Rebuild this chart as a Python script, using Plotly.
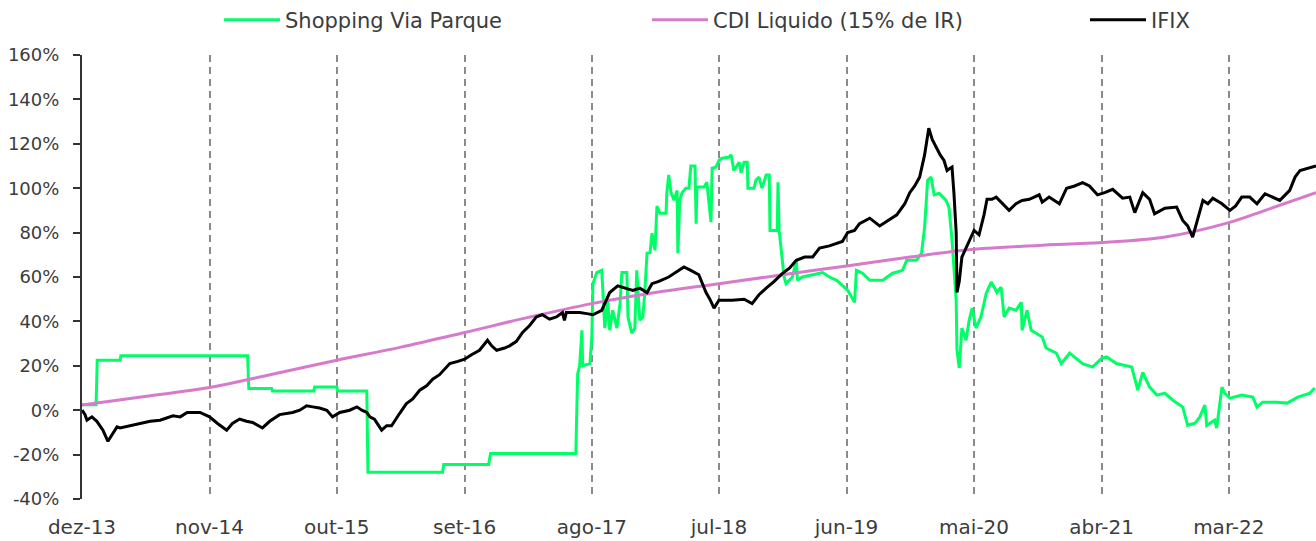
import plotly.graph_objects as go

# ---------------- data ----------------
shop_dates = [
    "2013-12-01", "2014-01-07", "2014-01-10", "2014-03-11", "2014-03-13", "2015-02-09", "2015-02-12",
    "2015-04-13", "2015-04-15", "2015-08-02", "2015-08-04", "2015-10-01", "2015-10-04", "2015-12-19",
    "2015-12-22", "2016-07-05", "2016-07-08", "2016-11-03", "2016-11-08", "2017-06-20",
    "2017-06-23", "2017-06-25", "2017-06-30", "2017-07-06", "2017-07-08", "2017-07-27", "2017-08-01",
    "2017-08-04", "2017-08-14", "2017-08-27", "2017-08-30", "2017-09-04", "2017-09-12", "2017-09-17",
    "2017-09-25", "2017-10-06", "2017-10-14", "2017-10-19", "2017-11-01", "2017-11-04", "2017-11-14",
    "2017-11-22", "2017-11-27", "2017-12-05", "2017-12-13", "2017-12-18", "2017-12-24", "2018-01-01",
    "2018-01-06", "2018-01-14", "2018-01-19", "2018-01-27", "2018-02-12", "2018-02-14", "2018-02-19",
    "2018-02-25", "2018-03-05", "2018-03-13", "2018-03-15", "2018-03-20", "2018-03-26", "2018-04-05",
    "2018-04-13", "2018-04-18", "2018-04-29", "2018-05-02", "2018-05-04", "2018-05-23", "2018-05-30",
    "2018-06-10", "2018-06-13", "2018-06-23", "2018-07-01", "2018-07-09", "2018-07-27", "2018-08-02",
    "2018-08-09", "2018-08-23", "2018-08-28", "2018-09-05", "2018-09-13", "2018-09-15", "2018-10-01",
    "2018-10-06", "2018-10-14", "2018-10-22", "2018-11-02", "2018-11-10", "2018-11-12", "2018-12-01",
    "2018-12-03", "2018-12-06", "2018-12-19", "2018-12-24", "2019-01-10", "2019-01-20", "2019-01-23",
    "2019-02-05", "2019-03-04", "2019-03-30", "2019-04-17", "2019-05-06", "2019-06-04", "2019-06-22",
    "2019-06-27", "2019-07-13", "2019-08-01", "2019-09-04", "2019-09-30", "2019-10-26", "2019-11-06",
    "2019-12-02", "2019-12-15", "2019-12-23", "2019-12-31", "2020-01-09", "2020-01-17", "2020-01-30",
    "2020-02-17", "2020-02-25", "2020-03-04", "2020-03-09", "2020-03-15", "2020-03-17", "2020-03-23",
    "2020-03-30", "2020-04-10", "2020-04-18", "2020-04-26", "2020-05-06", "2020-05-19", "2020-06-02",
    "2020-06-15", "2020-06-23", "2020-06-30", "2020-07-11", "2020-07-19", "2020-08-01", "2020-08-19",
    "2020-09-02", "2020-09-04", "2020-09-17", "2020-09-28", "2020-10-27", "2020-11-06", "2020-12-03",
    "2020-12-16", "2021-01-07", "2021-02-10", "2021-03-08", "2021-04-01", "2021-04-14", "2021-05-10",
    "2021-06-19", "2021-07-05", "2021-07-18", "2021-08-05", "2021-08-24", "2021-09-14", "2021-10-05",
    "2021-10-31", "2021-11-13", "2021-12-02", "2021-12-15", "2021-12-28", "2022-01-02", "2022-01-23",
    "2022-01-28", "2022-02-11", "2022-02-18", "2022-03-04", "2022-04-04", "2022-05-03", "2022-05-14",
    "2022-05-29", "2022-07-05", "2022-08-01", "2022-08-29", "2022-09-30", "2022-10-13",
]
shop_values = [
    2.5, 2.5, 22.5, 22.5, 24.5, 24.5, 9.8,
    9.8, 8.6, 8.6, 10.4, 10.4, 8.6, 8.6,
    -28.0, -28.0, -24.5, -24.5, -19.5, -19.5,
    3.6, 16.6, 20.0, 36.0, 20.0, 21.0, 33.0,
    57.0, 62.0, 63.0, 54.0, 37.0, 49.5, 36.0,
    45.0, 37.0, 48.0, 62.0, 62.0, 42.0, 34.7,
    37.0, 63.0, 40.5, 42.0, 52.7, 70.7, 71.0,
    79.7, 72.0, 92.0, 88.7, 88.7, 98.0, 106.0,
    98.0, 94.6, 99.0, 70.7, 94.6, 98.0, 100.0,
    100.0, 110.0, 110.0, 84.0, 100.5, 100.5, 102.7,
    84.7, 109.0, 109.5, 112.6, 113.5, 114.0, 115.0,
    108.0, 111.7, 107.0, 111.7, 111.7, 100.0, 100.0,
    103.6, 105.0, 100.0, 106.0, 106.0, 81.0, 81.0,
    102.7, 81.0, 60.0, 57.0, 60.0, 67.6, 58.5,
    60.0, 61.0, 62.0, 60.0, 58.5, 54.0, 48.6,
    63.0, 61.7, 58.5, 58.5, 61.7, 63.0, 67.6,
    67.6, 70.7, 82.4, 103.6, 105.0, 97.0, 97.7,
    94.6, 91.4, 76.6, 64.4, 49.5, 27.0, 19.0,
    37.0, 31.5, 40.5, 46.0, 37.0, 42.0, 52.7,
    57.7, 55.4, 53.0, 55.4, 42.0, 46.0, 45.0,
    48.6, 36.0, 45.0, 36.0, 33.0, 28.0, 25.7,
    21.0, 25.7, 21.0, 19.4, 23.4, 24.0, 21.0,
    19.4, 9.0, 17.0, 10.4, 6.8, 7.7, 4.5,
    1.4, -6.8, -5.9, -3.0, 2.3, -6.8, -4.5,
    -8.0, 10.4, 7.7, 5.4, 6.8, 5.9, 1.4,
    3.6, 3.6, 3.2, 5.9, 7.7, 10.0,
]

cdi_dates = [
    "2013-12-01", "2014-05-15", "2014-11-01", "2015-04-15", "2015-10-01", "2016-03-15",
    "2016-09-01", "2017-02-15", "2017-08-01", "2018-01-15", "2018-07-01", "2018-12-15",
    "2019-06-01", "2019-11-15", "2020-05-01", "2020-10-15", "2021-04-01", "2021-09-15",
    "2022-03-01", "2022-06-01", "2022-10-16",
]
cdi_values = [
    2.3, 6.2, 10.2, 16.2, 22.5, 28.3,
    35.0, 41.8, 48.0, 53.0, 57.0, 61.0,
    65.0, 69.0, 72.5, 74.2, 75.5, 78.0,
    84.5, 89.8, 98.0,
]

ifix_dates = [
    "2013-12-01", "2013-12-09", "2013-12-14", "2013-12-27", "2014-01-09", "2014-01-25", "2014-02-07",
    "2014-02-18", "2014-03-03", "2014-03-11", "2014-04-06", "2014-05-29", "2014-06-24", "2014-07-28",
    "2014-08-16", "2014-09-03", "2014-10-07", "2014-11-01", "2014-11-22", "2014-12-16", "2014-12-31",
    "2015-01-19", "2015-02-06", "2015-02-22", "2015-03-20", "2015-04-08", "2015-05-04", "2015-06-07",
    "2015-06-26", "2015-07-14", "2015-07-30", "2015-08-17", "2015-09-05", "2015-09-20", "2015-10-09",
    "2015-11-04", "2015-11-23", "2015-12-06", "2015-12-19", "2015-12-27", "2016-01-08", "2016-01-27",
    "2016-02-09", "2016-02-22", "2016-03-14", "2016-04-01", "2016-04-17", "2016-05-06", "2016-05-24",
    "2016-06-09", "2016-06-27", "2016-07-24", "2016-08-14", "2016-09-01", "2016-09-19", "2016-10-10",
    "2016-10-31", "2016-11-11", "2016-11-24", "2016-12-15", "2016-12-28", "2017-01-15", "2017-01-31",
    "2017-02-18", "2017-03-08", "2017-03-24", "2017-04-12", "2017-04-30", "2017-05-16", "2017-05-21",
    "2017-05-26", "2017-06-30", "2017-07-19", "2017-08-04", "2017-08-27", "2017-09-17", "2017-10-08",
    "2017-10-27", "2017-11-17", "2017-12-05", "2017-12-24", "2018-01-06", "2018-01-24", "2018-02-19",
    "2018-03-10", "2018-03-31", "2018-04-18", "2018-05-09", "2018-05-28", "2018-06-07", "2018-06-18",
    "2018-07-01", "2018-08-04", "2018-09-05", "2018-09-26", "2018-10-14", "2018-11-02", "2018-11-23",
    "2018-12-14", "2019-01-02", "2019-01-20", "2019-02-11", "2019-03-04", "2019-03-22", "2019-04-17",
    "2019-05-06", "2019-05-21", "2019-06-04", "2019-06-22", "2019-07-05", "2019-08-01", "2019-08-27",
    "2019-09-22", "2019-10-11", "2019-11-01", "2019-11-14", "2019-11-27", "2019-12-10", "2019-12-23",
    "2020-01-03", "2020-01-12", "2020-01-22", "2020-02-02", "2020-02-12", "2020-02-20", "2020-02-28",
    "2020-03-04", "2020-03-09", "2020-03-15", "2020-03-17", "2020-03-23", "2020-03-30", "2020-04-10",
    "2020-04-18", "2020-05-01", "2020-05-14", "2020-05-27", "2020-06-04", "2020-06-17", "2020-06-28",
    "2020-07-14", "2020-08-01", "2020-08-19", "2020-09-04", "2020-09-23", "2020-10-19", "2020-10-27",
    "2020-11-14", "2020-12-11", "2020-12-30", "2021-01-20", "2021-02-10", "2021-02-28", "2021-03-21",
    "2021-04-09", "2021-04-30", "2021-05-26", "2021-06-14", "2021-06-27", "2021-07-18", "2021-08-05",
    "2021-08-18", "2021-09-14", "2021-10-15", "2021-10-31", "2021-11-13", "2021-11-26", "2021-12-09",
    "2021-12-23", "2022-01-05", "2022-01-18", "2022-02-11", "2022-03-04", "2022-03-19", "2022-04-04",
    "2022-04-25", "2022-05-14", "2022-06-04", "2022-06-22", "2022-07-13", "2022-08-08", "2022-08-22",
    "2022-09-04", "2022-09-22", "2022-10-16",
]
ifix_values = [
    0.0, -2.0, -4.5, -3.0, -5.0, -9.0, -14.0,
    -11.0, -7.5, -8.0, -7.0, -5.0, -4.5, -2.5,
    -3.0, -1.0, -1.0, -3.0, -6.0, -9.0, -6.0,
    -4.0, -5.0, -5.5, -8.0, -5.0, -2.0, -1.0,
    0.0, 2.0, 1.5, 1.0, 0.0, -3.0, -1.0,
    0.0, 1.5, 0.0, -1.0, -3.0, -4.0, -9.0,
    -7.0, -7.0, -1.5, 3.0, 5.0, 9.0, 11.0,
    14.0, 16.0, 21.0, 22.0, 23.0, 25.0, 27.0,
    31.5, 29.0, 27.0, 28.0, 29.0, 31.0, 35.0,
    38.0, 42.0, 43.0, 41.0, 42.0, 44.0, 40.5,
    44.0, 44.0, 43.5, 43.0, 45.0, 53.0, 56.0,
    55.0, 54.0, 55.0, 53.0, 57.0, 58.0, 60.0,
    62.0, 64.5, 63.0, 61.0, 53.0, 50.0, 46.0,
    49.5, 49.5, 50.0, 48.0, 52.0, 55.0, 58.0,
    61.5, 64.0, 67.5, 69.0, 69.0, 73.0, 74.0,
    75.0, 76.0, 80.0, 81.0, 84.0, 86.5, 83.0,
    86.0, 88.0, 93.0, 98.0, 101.0, 105.0, 115.0,
    127.0, 122.0, 118.5, 115.0, 112.5, 108.0, 109.0,
    109.5, 98.0, 80.0, 53.0, 58.0, 69.0, 73.0,
    76.5, 81.0, 79.0, 88.0, 95.0, 95.0, 96.0,
    93.0, 90.0, 93.0, 94.5, 95.0, 97.0, 93.7,
    96.0, 93.0, 100.0, 101.0, 102.5, 101.0, 97.0,
    98.0, 99.5, 95.5, 96.0, 89.0, 98.0, 95.0,
    88.5, 91.0, 91.5, 85.5, 83.0, 78.0, 86.0,
    94.5, 93.0, 95.5, 93.0, 90.0, 92.0, 96.0,
    96.0, 93.0, 97.5, 96.0, 94.5, 99.0, 105.0,
    108.0, 109.0, 110.0,
]

x_tick_dates = ["2013-12-01", "2014-11-01", "2015-10-01", "2016-09-01", "2017-08-01",
                "2018-07-01", "2019-06-01", "2020-05-01", "2021-04-01", "2022-03-01"]
x_tick_labels = ["dez-13", "nov-14", "out-15", "set-16", "ago-17",
                 "jul-18", "jun-19", "mai-20", "abr-21", "mar-22"]
y_tick_values = [-40, -20, 0, 20, 40, 60, 80, 100, 120, 140, 160]
y_tick_labels = ["-40%", "-20%", "0%", "20%", "40%", "60%", "80%", "100%", "120%", "140%", "160%"]

# ---------------- figure ----------------
FONT = "'DejaVu Sans', Lato, sans-serif"
TXT = "#3c3c3c"
W, H = 1316, 541

fig = go.Figure()
fig.add_trace(go.Scatter(x=shop_dates, y=shop_values, mode="lines", name="Shopping Via Parque",
                         line=dict(color="#00FF66", width=3), legend="legend"))
fig.add_trace(go.Scatter(x=cdi_dates, y=cdi_values, mode="lines", name="CDI Liquido (15% de IR)",
                         line=dict(color="#D67BCB", width=3, shape="spline"), legend="legend2"))
fig.add_trace(go.Scatter(x=ifix_dates, y=ifix_values, mode="lines", name="IFIX",
                         line=dict(color="#000000", width=3), legend="legend3"))


def legend_at(text_left_px):
    return dict(orientation="h", xref="container", yref="container",
                x=(text_left_px - 66) / W, y=1 - 20 / H, xanchor="left", yanchor="middle",
                itemwidth=56, borderwidth=0, bgcolor="rgba(0,0,0,0)",
                font=dict(family=FONT, size=21, color=TXT))


fig.update_layout(
    width=W, height=H,
    margin=dict(l=82, r=0, t=55, b=42, autoexpand=False),
    paper_bgcolor="white", plot_bgcolor="white",
    font=dict(family=FONT, size=18, color=TXT),
    showlegend=True,
    legend=legend_at(285),
    legend2=legend_at(713),
    legend3=legend_at(1151),
    xaxis=dict(type="date", range=["2013-12-01", "2022-10-16"], automargin=False,
               tickmode="array", tickvals=x_tick_dates, ticktext=x_tick_labels,
               showgrid=True, gridcolor="#8a8a8a", gridwidth=1.5, griddash="7px,5px",
               showline=False, zeroline=False, ticks="", ticklabelstandoff=14,
               tickfont=dict(family=FONT, size=20, color=TXT)),
    yaxis=dict(range=[-40, 160], tickmode="array", tickvals=y_tick_values, ticktext=y_tick_labels,
               automargin=False,
               showgrid=False, zeroline=False, showline=True, linecolor="#333333", linewidth=2,
               ticks="outside", ticklen=7, tickwidth=2, tickcolor="#333333", ticklabelstandoff=10,
               tickfont=dict(family=FONT, size=18, color=TXT)),
)

fig.write_html("out.html", config={"displayModeBar": False},
               post_script="document.body.style.margin='0';document.body.style.overflow='hidden';")
